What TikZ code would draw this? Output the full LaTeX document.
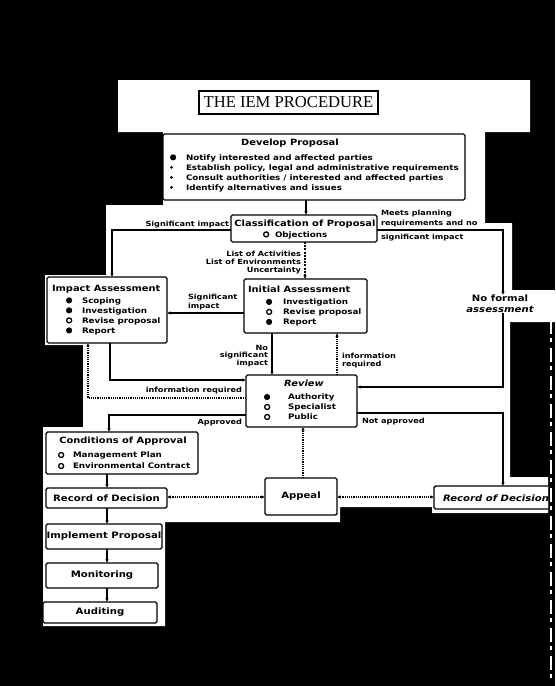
\documentclass[tikz,border=0pt]{standalone}
\usepackage{fontspec}
\setmainfont{DejaVu Sans}[FakeStretch=1.15]
\newfontfamily\titlefont{Liberation Serif}
\usetikzlibrary{arrows.meta}

% list bullets: filled, open and small
\newcommand\fbul{\tikz[baseline=-2.7pt]\fill (0,0) circle (3.1pt);}
\newcommand\obul{\tikz[baseline=-2.7pt]\draw[line width=1.3pt] (0,0) circle (2.5pt);}
\newcommand\sbul{\tikz[baseline=-2.7pt]\fill (0,0) circle (1.5pt);}
\newcommand\bl[2][12pt]{\makebox[#1][l]{#2}}

\begin{document}
\begin{tikzpicture}[x=1pt,y=-1pt,
  every node/.style={inner sep=0pt, outer sep=0pt},
  box/.style={draw, line width=1.4pt, rounded corners=1.5pt, fill=white},
  ttl/.style={font=\fontsize{8.6}{10}\selectfont\bfseries},
  big/.style={font=\fontsize{8.8}{10}\selectfont\bfseries},
  body/.style={font=\fontsize{7.6}{10}\selectfont\bfseries, align=left},
  lbl/.style={font=\fontsize{7.1}{8}\selectfont\bfseries},
  tip/.tip={Latex[length=3.6pt,width=3.4pt]},
  conn/.style={line width=1.1pt, -tip},
  dots/.style={conn, dash pattern=on 1.2pt off 1pt},
  both/.style={dots, tip-tip},
]
\useasboundingbox (0,0) rectangle (555,686);

% dark surround and the irregular sheet of paper
\fill[black] (0,0) rectangle (555,686);
\fill[white] (118,80) -- (530,80) -- (530,132) -- (485,132) -- (485,223)
  -- (512,223) -- (512,290) -- (555,290) -- (555,322) -- (510,322)
  -- (510,477) -- (548,477) -- (548,513) -- (432,513) -- (432,507)
  -- (340,507) -- (340,522) -- (165,522) -- (165,626) -- (43,626)
  -- (43,427) -- (83,427) -- (83,345) -- (45,345) -- (45,275)
  -- (106,275) -- (106,205) -- (163,205) -- (163,132) -- (118,132) -- cycle;
\draw[white, line width=2pt, dash pattern=on 14pt off 4pt on 4pt off 6pt] (551,292) -- (551,682);

\begin{scope}
\clip (0,0) rectangle (548,686);

% boxes
\node[box, rounded corners=0pt, minimum width=179pt, minimum height=23pt] (title) at (288.5,102.5)
  {\titlefont\fontsize{16.6}{17}\selectfont THE IEM PROCEDURE};
\node[box, minimum width=302pt, minimum height=66pt] (dev) at (314,167) {};
\node[box, minimum width=146pt, minimum height=27pt] (cls) at (304,228.5) {};
\node[box, minimum width=120pt, minimum height=66pt] (imp) at (107,310) {};
\node[box, minimum width=123pt, minimum height=54pt] (ini) at (305.5,306) {};
\node[box, minimum width=111pt, minimum height=52pt] (rev) at (301.5,401) {};
\node[box, minimum width=152pt, minimum height=42pt] (cond) at (122,453) {};
\node[box, minimum width=121pt, minimum height=20pt, big] (recL) at (106.5,498) {Record of Decision};
\node[box, minimum width=116pt, minimum height=25pt, big] (impl) at (104,536.5) {Implement Proposal};
\node[box, minimum width=112pt, minimum height=25pt, big] (mon) at (102,575.5) {Monitoring};
\node[box, minimum width=114pt, minimum height=21pt, big] (aud) at (100,612.5) {Auditing};
\node[box, minimum width=72pt, minimum height=37pt, big] (app) at (301,496.5) {Appeal};
\node[box, minimum width=146pt, minimum height=23pt] (recR) at (507,497.5) {};
\node[big, align=center, anchor=north] (nfa) at (500,295)
  {No formal\\[1pt]{\itshape assessment}};

% box contents
\node[ttl] (devT) at (290,143) {Develop Proposal};
\node[body, anchor=west] (devL) at (170,173)
  {\bl[16pt]{\fbul}Notify interested and affected parties\\
   \bl[16pt]{\sbul}Establish policy, legal and administrative requirements\\
   \bl[16pt]{\sbul}Consult authorities / interested and affected parties\\
   \bl[16pt]{\sbul}Identify alternatives and issues};
\node[ttl] (clsT) at (305,224) {Classification of Proposal};
\node[body, anchor=west] (clsL) at (263,235) {\bl[12pt]{\obul}Objections};
\node[ttl, anchor=west] (impT) at (52,289) {Impact Assessment};
\node[body, anchor=west] (impL) at (66,316)
  {\bl[16pt]{\fbul}Scoping\\ \bl[16pt]{\fbul}Investigation\\
   \bl[16pt]{\obul}Revise proposal\\ \bl[16pt]{\fbul}Report};
\node[ttl, anchor=west] (iniT) at (248,289) {Initial Assessment};
\node[body, anchor=west] (iniL) at (266,312.5)
  {\bl[17pt]{\fbul}Investigation\\ \bl[17pt]{\obul}Revise proposal\\ \bl[17pt]{\fbul}Report};
\node[ttl] (revT) at (304,383) {\itshape Review};
\node[body, anchor=west] (revL) at (264,407)
  {\bl[24pt]{\fbul}Authority\\ \bl[24pt]{\obul}Specialist\\ \bl[24pt]{\obul}Public};
\node[ttl] (condT) at (123,441) {Conditions of Approval};
\node[body, anchor=west, font=\fontsize{7.6}{11}\selectfont\bfseries] (condL) at (58,460.5)
  {\bl[15pt]{\obul}Management Plan\\ \bl[15pt]{\obul}Environmental Contract};
\node[big, anchor=west] (recRT) at (443,498) {\itshape Record of Decision};

% connector bends
\coordinate (e0) at (306,0);
\coordinate (e1) at (112,230);
\coordinate (e2) at (503,230);
\coordinate (e3) at (305,0);
\coordinate (e5) at (200,313);
\coordinate (e6) at (110,380);
\coordinate (e7) at (88,398);
\coordinate (e8) at (272,0);
\coordinate (e9) at (337,0);
\coordinate (e10) at (503,387);
\coordinate (e11) at (503,413);
\coordinate (e12) at (109,415);
\coordinate (e13) at (303,0);
\coordinate (e14) at (0,497);
\coordinate (e15) at (107,0);

% connectors
\draw[conn] (dev.south -| e0) -- (cls.north -| e0);
\draw[conn] (cls.west |- e1) -- (e1) -- (imp.north -| e1);
\draw[conn] (cls.east |- e2) -- (e2) -- (nfa.north -| e2);
\draw[conn, dash pattern=on 2pt off 1.2pt] (cls.south -| e3) -- (ini.north -| e3);
\draw[conn] (ini.west |- e5) -- (imp.east |- e5);
\draw[conn] (imp.south -| e6) -- (e6) -- (rev.west |- e6);
\draw[dots] (rev.west |- e7) -- (e7) -- (imp.south -| e7);
\draw[conn] (ini.south -| e8) -- (rev.north -| e8);
\draw[dots] (rev.north -| e9) -- (ini.south -| e9);
\draw[conn] (nfa.south -| e10) -- (e10) -- (rev.east |- e10);
\draw[conn] (rev.east |- e11) -- (e11) -- (recR.north -| e11);
\draw[conn] (rev.west |- e12) -- (e12) -- (cond.north -| e12);
\draw[dots] (app.north -| e13) -- (rev.south -| e13);
\draw[both] (recL.east |- e14) -- (app.west |- e14);
\draw[both] (app.east |- e14) -- (recR.west |- e14);
\draw[conn] (cond.south -| e15) -- (recL.north -| e15);
\draw[conn] (recL.south -| e15) -- (impl.north -| e15);
\draw[conn] (impl.south -| e15) -- (mon.north -| e15);
\draw[conn] (mon.south -| e15) -- (aud.north -| e15);

% connector labels
\node[lbl, anchor=south east] (l1) at (229,228) {Significant impact};
\node[lbl, anchor=west] (l2a) at (381,214) {Meets planning};
\node[lbl, anchor=west] (l2b) at (381,224) {requirements and no};
\node[lbl, anchor=west] (l2c) at (381,238) {significant impact};
\node[lbl, align=right, anchor=east] (l3) at (301,263) {List of Activities\\List of Environments\\Uncertainty};
\node[lbl, align=left, anchor=west, font=\fontsize{7.1}{9}\selectfont\bfseries] (l5) at (188,302.5) {Significant\\impact};
\node[lbl, anchor=east] (l7) at (242,391) {information required};
\node[lbl, align=right, anchor=east, font=\fontsize{7.1}{7.8}\selectfont\bfseries] (l8) at (268,356) {No\\significant\\impact};
\node[lbl, align=left, anchor=west] (l9) at (342,361) {information\\required};
\node[lbl, anchor=west] (l11) at (362,422) {Not approved};
\node[lbl, anchor=east] (l12) at (242,423) {Approved};
\end{scope}
\end{tikzpicture}
\end{document}
